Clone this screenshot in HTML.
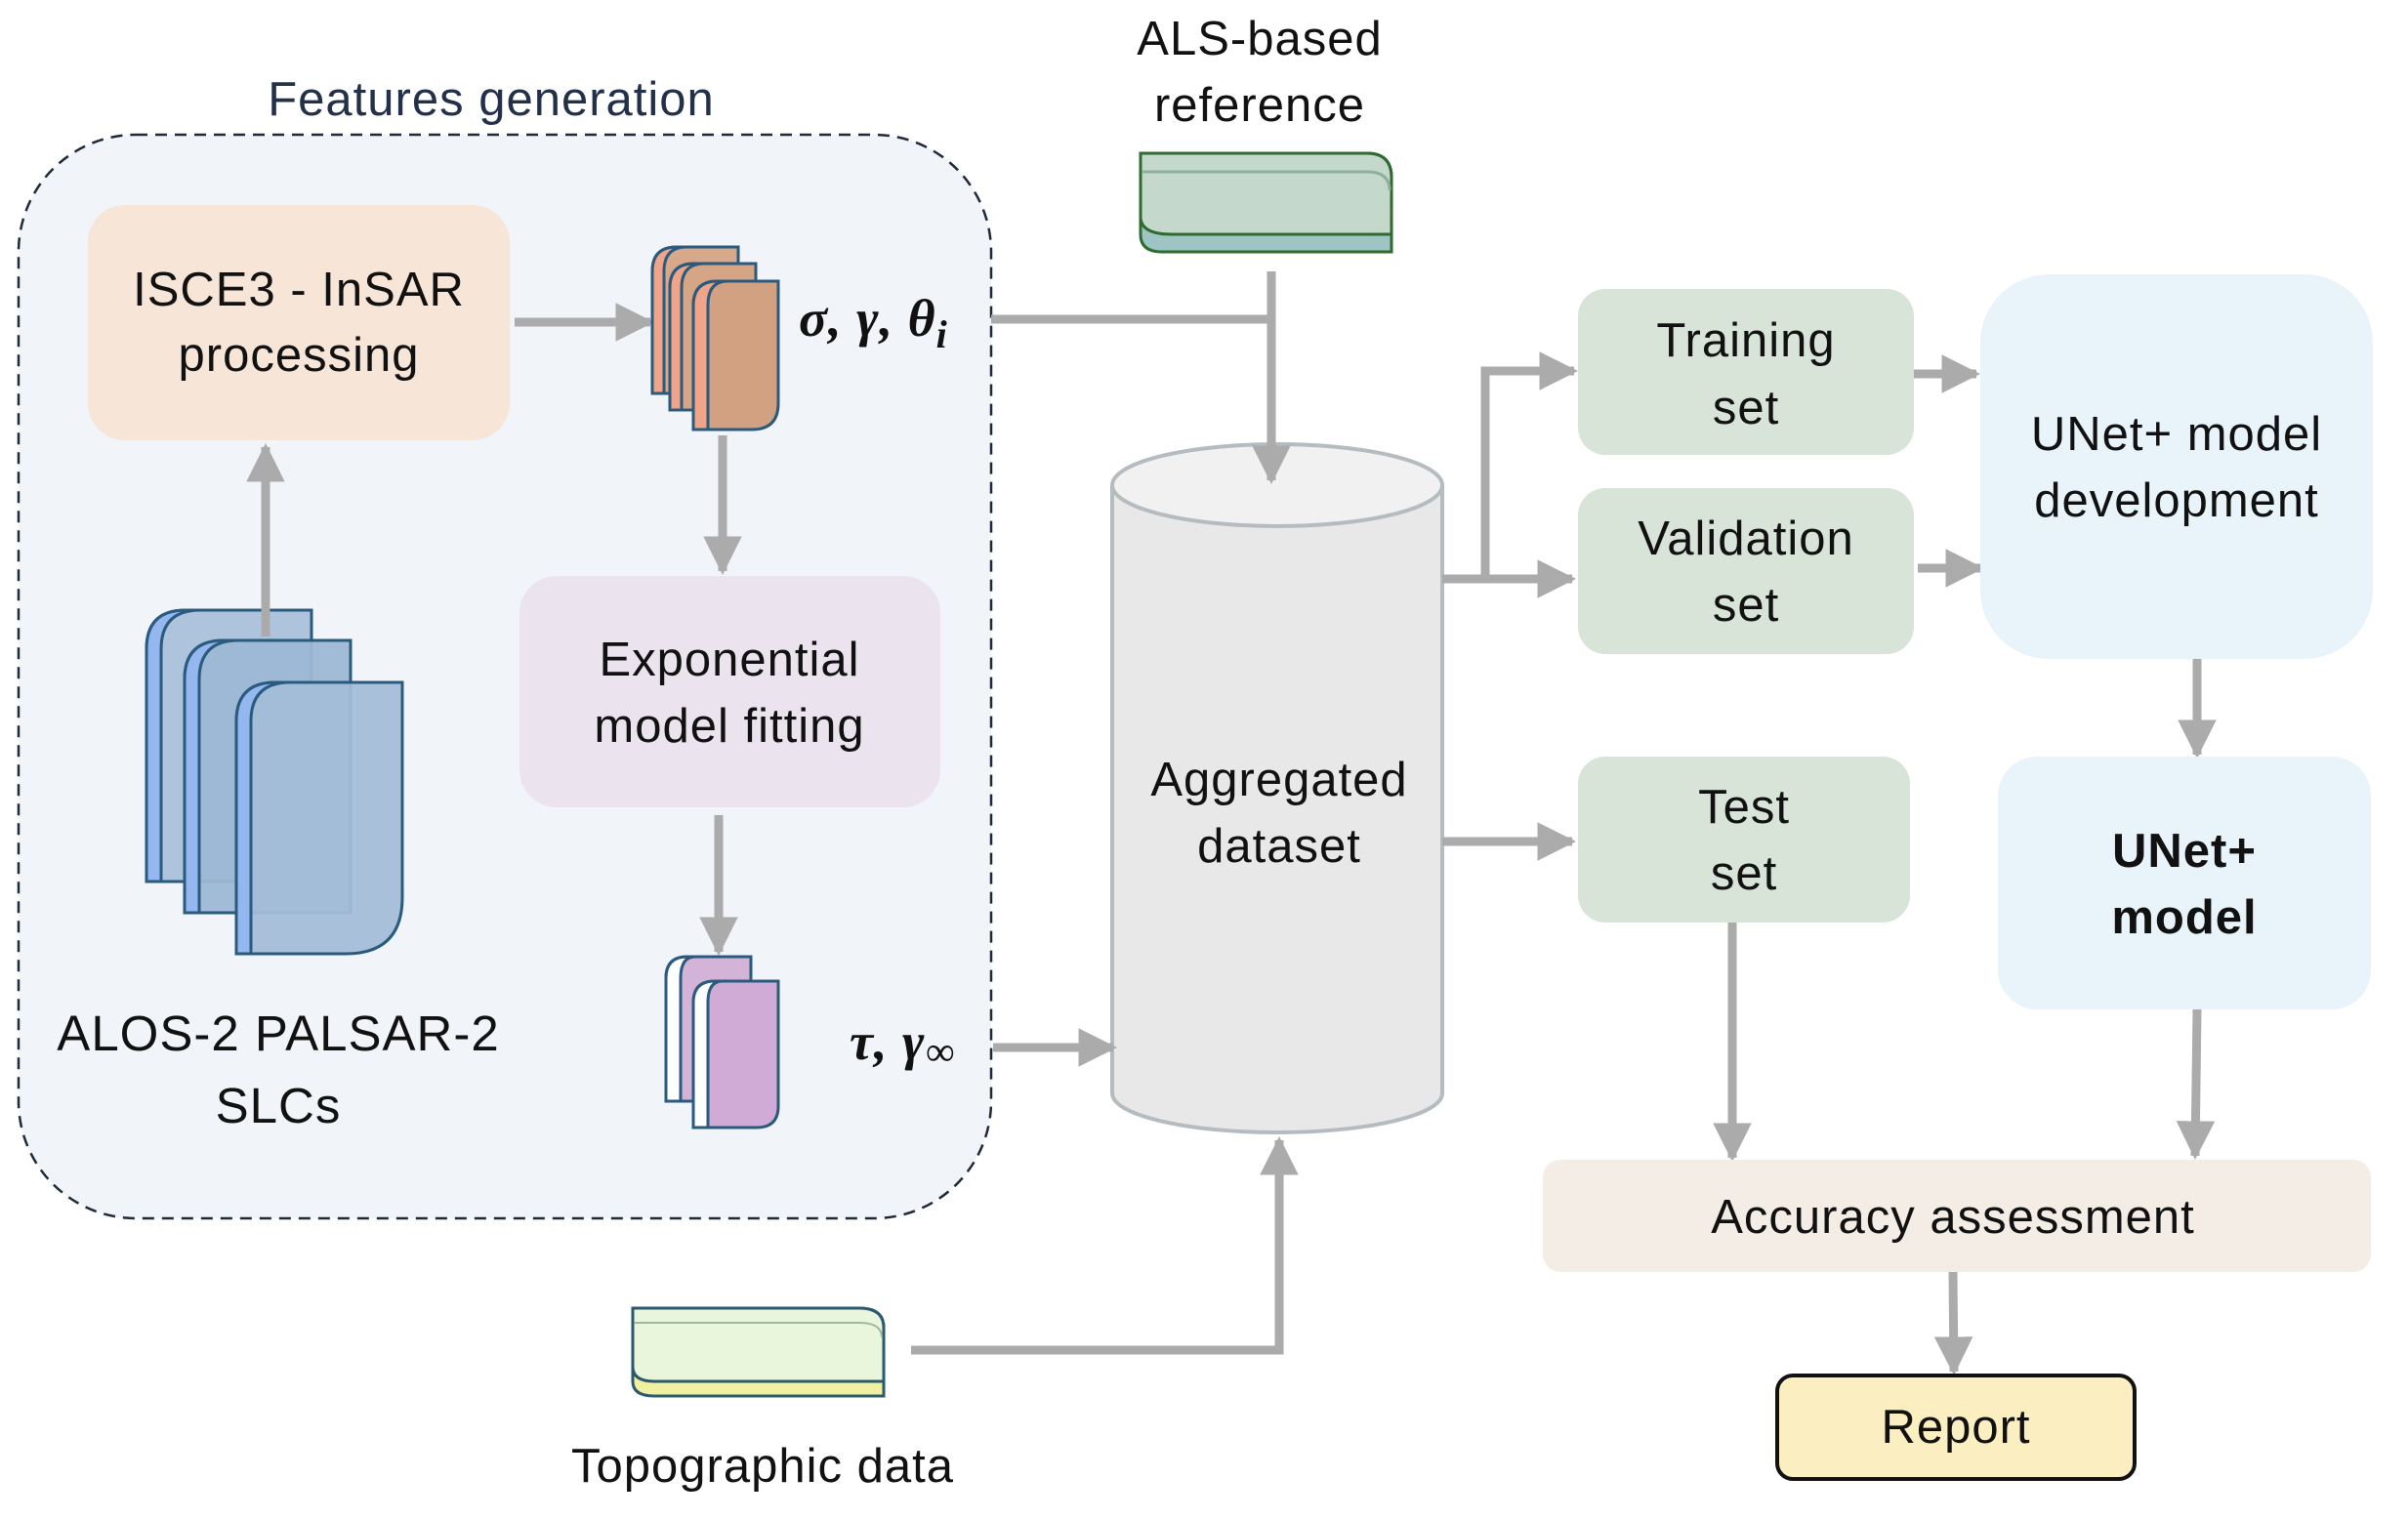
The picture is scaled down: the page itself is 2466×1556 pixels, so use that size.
<!DOCTYPE html>
<html><head><meta charset="utf-8"><style>
html,body{margin:0;padding:0;background:#fff;}
svg{display:block;}
text{font-family:"Liberation Sans","DejaVu Sans",sans-serif;fill:#111;letter-spacing:1px;}
</style></head><body>
<svg width="2466" height="1556" viewBox="0 0 2466 1556" xmlns="http://www.w3.org/2000/svg">
<defs>
<marker id="ah" viewBox="0 0 10 10" refX="9" refY="5" markerWidth="4.4" markerHeight="4.4" markerUnits="strokeWidth" orient="auto">
<path d="M0,0 L10,5 L0,10 z" fill="#ababab"/></marker>
</defs>

<!-- features container -->
<rect x="19" y="138" width="996" height="1110" rx="120" fill="#f1f5f9" stroke="#1e2a3a" stroke-width="2.5" stroke-dasharray="12,8"/>
<text x="503" y="118" font-size="49" text-anchor="middle" style="fill:#22304a">Features generation</text>

<!-- ISCE3 box -->
<rect x="90" y="210" width="432" height="241" rx="38" fill="#f7e5d8"/>
<text x="306" y="313" font-size="49" text-anchor="middle">ISCE3 -  InSAR</text>
<text x="306" y="380" font-size="49" text-anchor="middle">processing</text>

<!-- Exponential box -->
<rect x="532" y="590" width="431" height="237" rx="38" fill="#ebe4ef"/>
<text x="747" y="692" font-size="49" text-anchor="middle">Exponential</text>
<text x="747" y="760" font-size="49" text-anchor="middle">model fitting</text>

<!-- arrows inside -->
<g stroke="#ababab" stroke-width="9" fill="none">
<line x1="527" y1="330" x2="666" y2="330" marker-end="url(#ah)"/>
<line x1="740" y1="446" x2="740" y2="585" marker-end="url(#ah)"/>
<line x1="736" y1="835" x2="736" y2="975" marker-end="url(#ah)"/>
</g>

<!-- blue stack -->
<g transform="translate(150,625)">
<path d="M0,40 Q0,0 40,0 L169,0 L169,278 L0,278 Z" fill="#aec4dc" stroke="#2a5a7e" stroke-width="3"/>
<path d="M0,40 Q0,0 40,0 L55,0 Q15,0 15,40 L15,278 L0,278 Z" fill="#93b7ee" stroke="#2a5a7e" stroke-width="3"/>
</g>
<line x1="272" y1="652" x2="272" y2="458" stroke="#ababab" stroke-width="9" marker-end="url(#ah)"/>
<g transform="translate(189,656)">
<path d="M0,40 Q0,0 40,0 L170,0 L170,279 L0,279 Z" fill="#9db8d5" fill-opacity="0.95" stroke="#2a5a7e" stroke-width="3"/>
<path d="M0,40 Q0,0 40,0 L55,0 Q15,0 15,40 L15,279 L0,279 Z" fill="#93b7ee" stroke="#2a5a7e" stroke-width="3"/>
</g>
<g transform="translate(242,699)">
<path d="M0,40 Q0,0 40,0 L170,0 L170,220 Q170,278 112,278 L0,278 Z" fill="#a3bdd8" fill-opacity="0.95" stroke="#2a5a7e" stroke-width="3"/>
<path d="M0,40 Q0,0 40,0 L55,0 Q15,0 15,40 L15,278 L0,278 Z" fill="#93b7ee" stroke="#2a5a7e" stroke-width="3"/>
</g>

<!-- orange stack -->
<g transform="translate(668,253)">
<path d="M0,25 Q0,0 25,0 L88,0 L88,150 L0,150 Z" fill="#d7a88a" stroke="#2a5a7e" stroke-width="3"/>
<path d="M0,25 Q0,0 25,0 L35,0 Q12,0 12,25 L12,150 L0,150 Z" fill="#f0a48a" stroke="#2a5a7e" stroke-width="3"/>
</g>
<g transform="translate(686,270)">
<path d="M0,25 Q0,0 25,0 L88,0 L88,150 L0,150 Z" fill="#d5a586" stroke="#2a5a7e" stroke-width="3"/>
<path d="M0,25 Q0,0 25,0 L35,0 Q12,0 12,25 L12,150 L0,150 Z" fill="#f0a48a" stroke="#2a5a7e" stroke-width="3"/>
</g>
<g transform="translate(710,288)">
<path d="M0,25 Q0,0 25,0 L87,0 L87,125 Q87,152 60,152 L0,152 Z" fill="#d2a182" stroke="#2a5a7e" stroke-width="3"/>
<path d="M0,25 Q0,0 25,0 L35,0 Q15,0 15,25 L15,152 L0,152 Z" fill="#f0a48a" stroke="#2a5a7e" stroke-width="3"/>
</g>
<text x="818" y="344" font-size="54" font-style="italic" font-weight="bold" style="font-family:'Liberation Serif','DejaVu Serif',serif">σ, γ, θ<tspan font-size="40" dy="12">i</tspan></text>

<!-- purple stack -->
<g transform="translate(682,980)">
<path d="M0,22 Q0,0 22,0 L87,0 L87,148 L0,148 Z" fill="#d4b3d8" stroke="#2a5a7e" stroke-width="3"/>
<path d="M0,22 Q0,0 22,0 L30,0 Q15,0 15,22 L15,148 L0,148 Z" fill="#ffffff" stroke="#2a5a7e" stroke-width="3"/>
</g>
<g transform="translate(710,1005)">
<path d="M0,22 Q0,0 22,0 L87,0 L87,128 Q87,150 65,150 L0,150 Z" fill="#d0abd6" stroke="#2a5a7e" stroke-width="3"/>
<path d="M0,22 Q0,0 22,0 L30,0 Q15,0 15,22 L15,150 L0,150 Z" fill="#ffffff" stroke="#2a5a7e" stroke-width="3"/>
</g>
<text x="870" y="1085" font-size="54" font-style="italic" font-weight="bold" style="font-family:'Liberation Serif','DejaVu Serif',serif">τ, γ<tspan font-size="42" dy="6">∞</tspan></text>

<text x="285" y="1076" font-size="51" text-anchor="middle">ALOS-2 PALSAR-2</text>
<text x="285" y="1150" font-size="51" text-anchor="middle">SLCs</text>

<!-- ALS reference -->
<text x="1290" y="56" font-size="49" text-anchor="middle">ALS-based</text>
<text x="1290" y="124" font-size="49" text-anchor="middle">reference</text>
<path d="M1168,157 L1400,157 Q1425,157 1425,182 L1425,258 L1190,258 Q1168,258 1168,240 Z" fill="#9fc4c4" stroke="#2f6a2f" stroke-width="3"/>
<path d="M1168,157 L1400,157 Q1425,157 1425,182 L1425,240 L1200,240 Q1168,240 1168,222 Z" fill="#c4d8cc" stroke="#2f6a2f" stroke-width="3"/>
<path d="M1170,176 L1400,176 Q1423,176 1423,195" fill="none" stroke="#8fb09a" stroke-width="3"/>

<!-- Topographic -->
<path d="M648,1340 L880,1340 Q905,1340 905,1360 L905,1430 L670,1430 Q648,1430 648,1415 Z" fill="#f0f0a0" stroke="#2a5a6e" stroke-width="3"/>
<path d="M648,1340 L880,1340 Q905,1340 905,1360 L905,1415 L670,1415 Q648,1415 648,1400 Z" fill="#eaf6dc" stroke="#2a5a6e" stroke-width="3"/>
<path d="M650,1355 L880,1355 Q903,1355 903,1370" fill="none" stroke="#9fb8a0" stroke-width="2"/>
<text x="781" y="1518" font-size="49" text-anchor="middle">Topographic data</text>

<!-- cylinder -->
<path d="M1139,497 L1139,1120 A169,40 0 0 0 1477,1120 L1477,497" fill="#e8e8e8" stroke="#b4bcc0" stroke-width="4"/>
<ellipse cx="1308" cy="497" rx="169" ry="42" fill="#f1f1f1" stroke="#b4bcc0" stroke-width="4"/>
<text x="1310" y="815" font-size="49" text-anchor="middle">Aggregated</text>
<text x="1310" y="883" font-size="49" text-anchor="middle">dataset</text>

<!-- connectors -->
<g stroke="#ababab" stroke-width="9" fill="none">
<polyline points="1015,327 1302,327"/>
<line x1="1302" y1="278" x2="1302" y2="492" marker-end="url(#ah)"/>
<line x1="1017" y1="1073" x2="1140" y2="1073" marker-end="url(#ah)"/>
<polyline points="933,1383 1310,1383 1310,1168" marker-end="url(#ah)"/>
<polyline points="1477,593 1521,593 1521,380 1612,380" marker-end="url(#ah)"/>
<line x1="1521" y1="593" x2="1610" y2="593" marker-end="url(#ah)"/>
<line x1="1477" y1="862" x2="1610" y2="862" marker-end="url(#ah)"/>
<line x1="1960" y1="383" x2="2024" y2="383" marker-end="url(#ah)"/>
<line x1="1964" y1="582" x2="2028" y2="582" marker-end="url(#ah)"/>
<line x1="2250" y1="675" x2="2250" y2="773" marker-end="url(#ah)"/>
<line x1="1774" y1="945" x2="1774" y2="1186" marker-end="url(#ah)"/>
<line x1="2250" y1="1034" x2="2248" y2="1184" marker-end="url(#ah)"/>
<line x1="2000" y1="1303" x2="2001" y2="1405" marker-end="url(#ah)"/>
</g>

<!-- right boxes -->
<rect x="1616" y="296" width="344" height="170" rx="28" fill="#d8e4d8"/>
<text x="1788" y="365" font-size="49" text-anchor="middle">Training</text>
<text x="1788" y="434" font-size="49" text-anchor="middle">set</text>
<rect x="1616" y="500" width="344" height="170" rx="28" fill="#d8e4d8"/>
<text x="1788" y="568" font-size="49" text-anchor="middle">Validation</text>
<text x="1788" y="636" font-size="49" text-anchor="middle">set</text>
<rect x="1616" y="775" width="340" height="170" rx="28" fill="#d8e4d8"/>
<text x="1786" y="843" font-size="49" text-anchor="middle">Test</text>
<text x="1786" y="911" font-size="49" text-anchor="middle">set</text>

<rect x="2028" y="281" width="402" height="394" rx="70" fill="#e8f4fa"/>
<text x="2229" y="461" font-size="49" text-anchor="middle">UNet+ model</text>
<text x="2229" y="529" font-size="49" text-anchor="middle">development</text>
<rect x="2046" y="775" width="382" height="259" rx="40" fill="#e8f4fa"/>
<text x="2237" y="888" font-size="49" font-weight="bold" text-anchor="middle">UNet+</text>
<text x="2237" y="956" font-size="49" font-weight="bold" text-anchor="middle">model</text>

<rect x="1580" y="1188" width="848" height="115" rx="18" fill="#f4ede6"/>
<text x="2000" y="1263" font-size="49" text-anchor="middle">Accuracy assessment</text>

<rect x="1820" y="1409" width="366" height="106" rx="16" fill="#fbeec0" stroke="#111" stroke-width="4"/>
<text x="2003" y="1478" font-size="49" text-anchor="middle">Report</text>
</svg>
</body></html>
